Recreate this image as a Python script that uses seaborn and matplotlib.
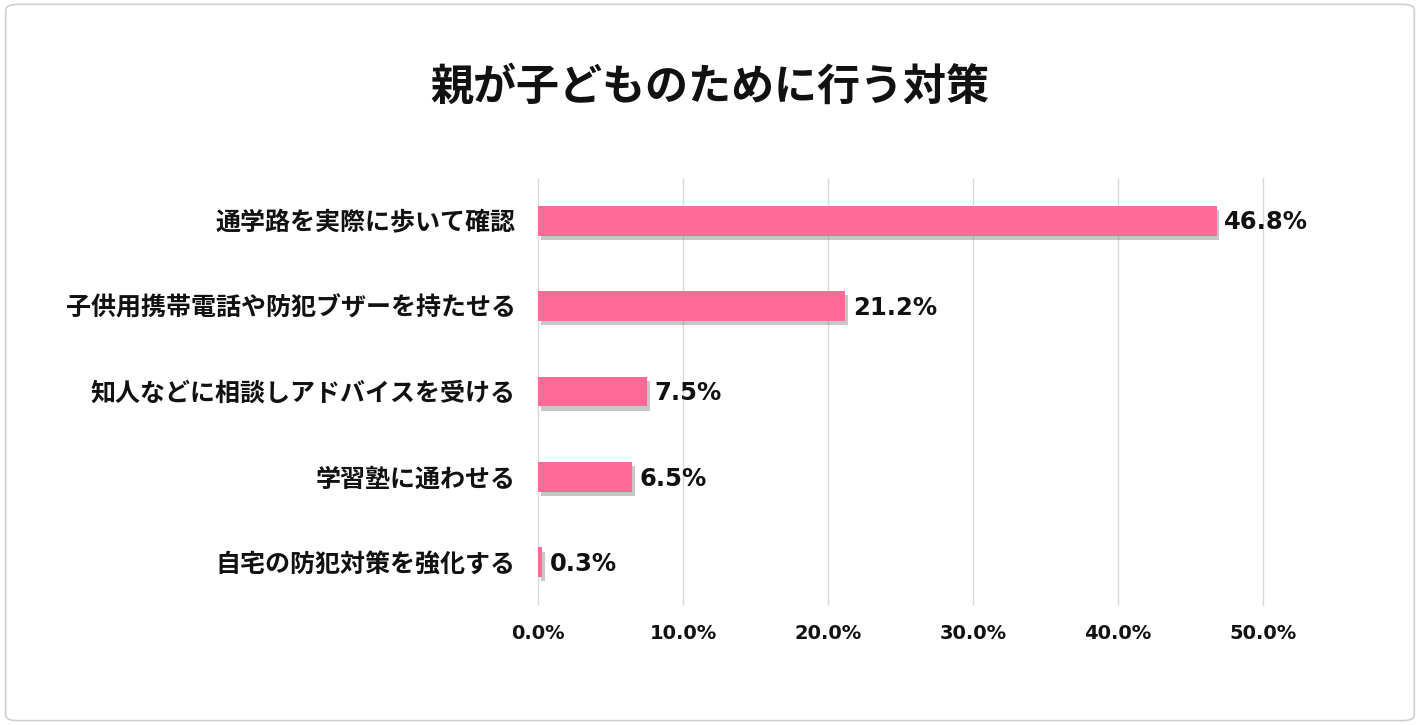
import matplotlib
matplotlib.use("Agg")
import matplotlib.pyplot as plt
import matplotlib.patheffects as pe
from matplotlib.patches import FancyBboxPatch
import seaborn as sns
import pandas as pd

title = "親が子どものために行う対策"
categories = [
    "通学路を実際に歩いて確認",
    "子供用携帯電話や防犯ブザーを持たせる",
    "知人などに相談しアドバイスを受ける",
    "学習塾に通わせる",
    "自宅の防犯対策を強化する",
]
values = [46.8, 21.2, 7.5, 6.5, 0.3]
xticks = [0, 10, 20, 30, 40, 50]

df = pd.DataFrame({"cat": categories, "val": values})

sns.set_theme(style="white")
plt.rcParams['font.family'] = ['Noto Sans CJK JP', 'DejaVu Sans']

fig = plt.figure(figsize=(14.2, 7.25), dpi=100)
fig.patch.set_facecolor("white")
border = FancyBboxPatch((0.004, 0.006), 0.992, 0.988, boxstyle="round,pad=0,rounding_size=0.008",
                        transform=fig.transFigure, facecolor="none", edgecolor="#d0d0d0",
                        linewidth=1.2, zorder=-1)
fig.patches.append(border)

ax = fig.add_axes([0.3789, 0.1655, 0.5106, 0.589])
ax.set_facecolor("none")
sns.barplot(data=df, x="val", y="cat", orient="h", color="#FF6A98", width=0.35,
            saturation=1, ax=ax, zorder=3, linewidth=0, edgecolor="none")
for p in ax.patches:
    p.set_path_effects([pe.SimplePatchShadow(offset=(2, -3), shadow_rgbFace="#7a7a7a", alpha=0.42), pe.Normal()])

ax.set_xlim(0, 50)
ax.set_xticks(xticks)
ax.set_xticklabels([f"{t:.1f}%" for t in xticks], fontsize=14, fontweight="bold",
                   family=['DejaVu Sans'], color="#111111")
ax.tick_params(axis="x", length=0, pad=14)
ax.tick_params(axis="y", length=0, pad=16)
for lab in ax.get_yticklabels():
    lab.set_fontsize(18)
    lab.set_fontweight("bold")
    lab.set_color("#111111")
ax.set_xlabel("")
ax.set_ylabel("")
ax.grid(axis="x", color="#d9d9d9", linewidth=1, zorder=0)
for gl in ax.get_xgridlines():
    gl.set_clip_on(False)
ax.grid(axis="y", visible=False)
ax.set_axisbelow(True)
for s in ax.spines.values():
    s.set_visible(False)

for i, v in enumerate(values):
    ax.text(v + 0.5, i + 0.02, f"{v:.1f}%", va="center", ha="left", fontsize=17.5,
            fontweight="bold", family=['DejaVu Sans'], color="#111111", zorder=4)

fig.text(0.5, 0.88, title, ha="center", va="center", fontsize=31, fontweight="bold", color="#111111")

fig.savefig("out.png", dpi=100, facecolor="white")
